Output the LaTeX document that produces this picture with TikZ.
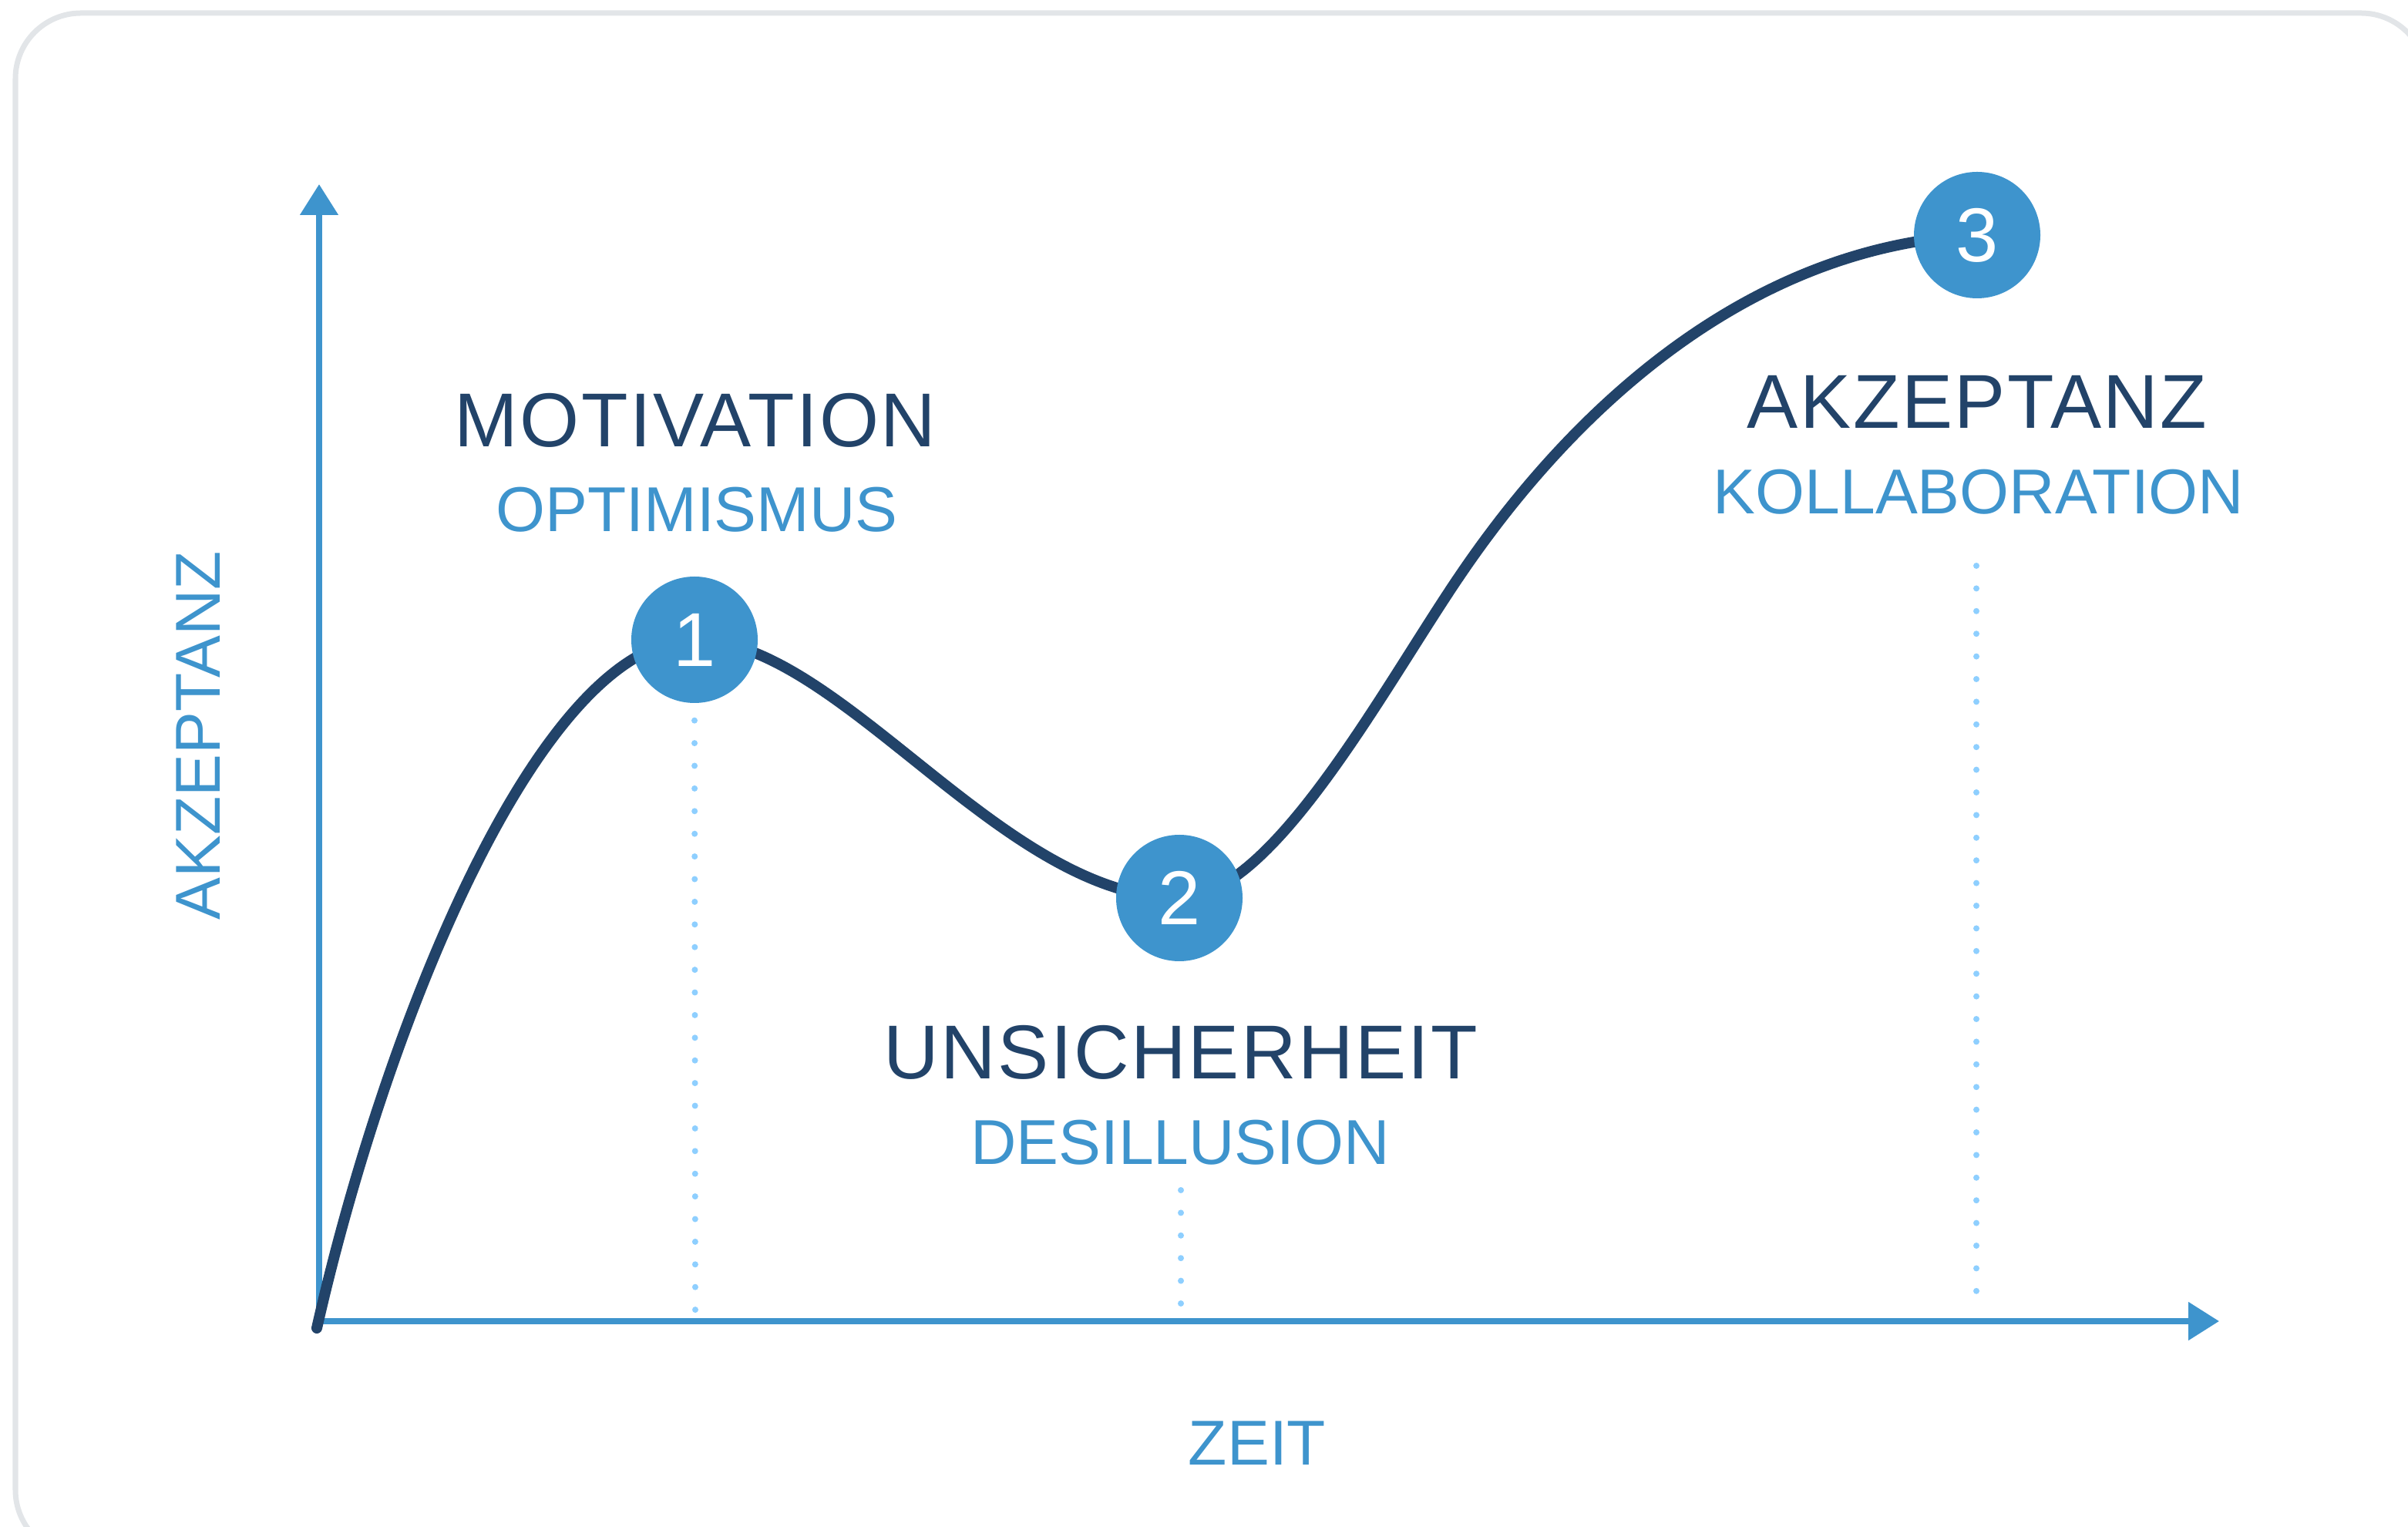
\documentclass[tikz,border=0pt]{standalone}
\usepackage{fontspec}
\setmainfont{Liberation Sans}
\newfontfamily\widefont[LetterSpace = 2.5]{Liberation Sans}
\usetikzlibrary{arrows.meta}
\definecolor{curvenavy}{HTML}{224369}
\definecolor{axisblue}{HTML}{3E94CD}
\definecolor{dotblue}{HTML}{8ECFFF}
\definecolor{framegray}{HTML}{E2E5E8}
\tikzset{
    axisline/.style = {axisblue, line width = 0.08cm, -{Triangle[width = 0.48cm, length = 0.40cm]}},
    curveline/.style = {curvenavy, line width = 0.14cm, line cap = round},
    guide/.style = {dotblue, line width = 0.08cm, line cap = round, dash pattern = on 0pt off 0.294cm},
    stage/.style = {circle, fill = axisblue, minimum size = 1.64cm, inner sep = 0pt, text = white,
        font = \fontsize{28.2}{30}\selectfont},
    phase/.style = {curvenavy, anchor = base, font = \widefont\fontsize{28.2}{30}\selectfont},
    mood/.style = {axisblue, anchor = base, font = \fontsize{23.4}{26}\selectfont}
}

\begin{document}
\begin{tikzpicture}
        \useasboundingbox (0, 0) rectangle (31.24, 19.80);
        \draw [framegray, line width = 0.07cm, rounded corners = 0.85cm] (0.20, 19.63) rectangle (31.48, -0.38);

        % axes
        \coordinate (origin) at (4.14, 2.66);
        \coordinate (ytip) at (4.14, 17.41);
        \coordinate (xtip) at (28.79, 2.66);
        \draw [axisline] (origin) -- (ytip);
        \draw [axisline] (origin) -- (xtip);
        \node [mood, rotate = 90] (ylabel) at (2.85, 10.26) {AKZEPTANZ};
        \node [mood] (xlabel) at (16.31, 0.80) {ZEIT};

        % curve
        \coordinate (start) at (4.11, 2.57);
        \coordinate (p1) at (9.01, 11.50);
        \coordinate (p2) at (15.30, 8.15);
        \coordinate (turn) at (18.93, 12.32);
        \coordinate (p3) at (25.65, 16.75);
        \draw [curveline] (start) .. controls (5.00, 6.50) and (7.00, 11.50) .. (p1)
            .. controls (10.90, 11.50) and (13.00, 8.15) .. (p2)
            .. controls (16.50, 8.15) and (17.92, 10.83) .. (turn)
            .. controls (20.50, 14.64) and (22.80, 16.62) .. (p3);
        \node [stage] (s1) at (p1) {1};
        \node [stage] (s2) at (p2) {2};
        \node [stage] (s3) at (p3) {3};

        % labels
        \node [phase] (motivation) at (9.02, 14.00) {MOTIVATION};
        \node [mood] (optimismus) at (9.04, 12.90) {OPTIMISMUS};
        \node [phase] (unsicherheit) at (15.32, 5.80) {UNSICHERHEIT};
        \node [mood] (desillusion) at (15.31, 4.69) {DESILLUSION};
        \node [phase] (akzeptanz) at (25.65, 14.24) {AKZEPTANZ};
        \node [mood] (kollaboration) at (25.67, 13.13) {KOLLABORATION};

        % dotted guides
        \coordinate (g1) at (9.02, 2.78);
        \coordinate (g2a) at (15.32, 4.36);
        \coordinate (g2) at (15.32, 2.83);
        \coordinate (g3a) at (25.64, 12.46);
        \coordinate (g3) at (25.64, 3.00);
        \draw [guide] ([yshift = -0.22cm] s1.south) -- (g1);
        \draw [guide] (g2a) -- (g2);
        \draw [guide] (g3a) -- (g3);
    \end{tikzpicture}
\end{document}
